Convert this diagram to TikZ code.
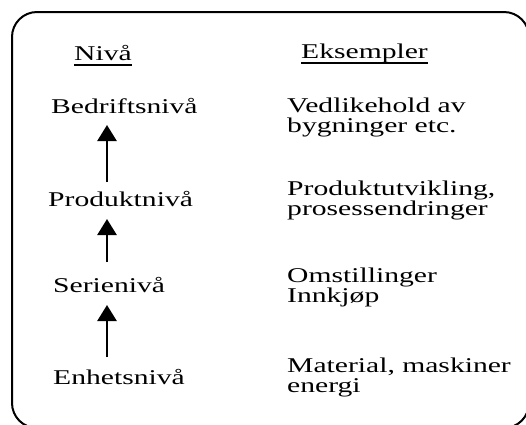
\documentclass[tikz,border=0pt]{standalone}
\usepackage{fontspec}
\setmainfont{Liberation Serif}[FakeStretch=1.41]
\usetikzlibrary{arrows.meta}
\begin{document}
\begin{tikzpicture}[x=1pt,y=-1pt,
  lbl/.style={inner sep=0pt, anchor=base west, font=\fontsize{21}{20}\selectfont},
  arr/.style={-{Triangle[width=19pt,length=16pt]}, line width=2.6pt},
  frame/.style={line width=2pt, rounded corners=25pt},
  uline/.style={line width=1.3pt}]
\useasboundingbox (0,0) rectangle (526,424);
\begin{scope}
  \clip (0,0) rectangle (526,424);
  \draw[frame] (12,12) rectangle (529,428);
\end{scope}
% headings
\node[lbl] (hniva) at (74,60) {Nivå};
\node[lbl] (heks) at (301,58) {Eksempler};
\draw[uline] ([yshift=-5pt]hniva.base west) -- ([yshift=-5pt]hniva.base east);
\draw[uline] ([yshift=-5pt]heks.base west) -- ([yshift=-5pt]heks.base east);
% levels
\node[lbl] (bed) at (51,113) {Bedriftsnivå};
\node[lbl] (prod) at (48,206) {Produktnivå};
\node[lbl] (ser) at (53,292) {Serienivå};
\node[lbl] (enh) at (53,384) {Enhetsnivå};
% examples
\node[lbl] (e1a) at (287,112) {Vedlikehold av};
\node[lbl] (e1b) at (287,132) {bygninger etc.};
\node[lbl] (e2a) at (287,195) {Produktutvikling,};
\node[lbl] (e2b) at (287,215) {prosessendringer};
\node[lbl] (e3a) at (287,282) {Omstillinger};
\node[lbl] (e3b) at (287,302) {Innkjøp};
\node[lbl] (e4a) at (287,372) {Material, maskiner};
\node[lbl] (e4b) at (287,392) {energi};
% arrows
\coordinate (a1s) at (107,182);
\coordinate (a1e) at (107,125);
\coordinate (a2s) at (107,262);
\coordinate (a2e) at (107,219);
\coordinate (a3s) at (107,357);
\coordinate (a3e) at (107,305);
\draw[arr] (a1s) -- (a1e);
\draw[arr] (a2s) -- (a2e);
\draw[arr] (a3s) -- (a3e);
\end{tikzpicture}
\end{document}
